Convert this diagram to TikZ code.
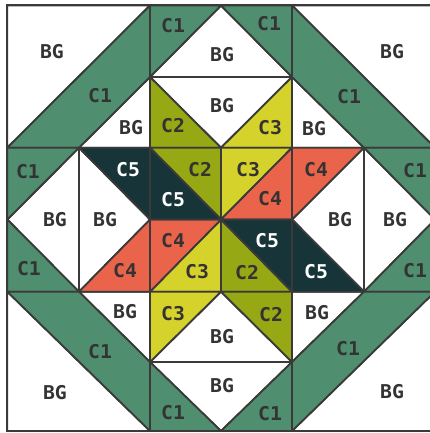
\documentclass[tikz,border=0pt]{standalone}
\usepackage{fontspec}
\newfontfamily\lblfont[FakeStretch=1.04]{DejaVu Sans Mono}
\definecolor{cA}{HTML}{4F8E6F}
\definecolor{cB}{HTML}{96A814}
\definecolor{cC}{HTML}{D6D22C}
\definecolor{cD}{HTML}{E9644A}
\definecolor{cE}{HTML}{173438}
\definecolor{lineC}{HTML}{3A3A3A}
\definecolor{txt}{HTML}{333333}
\tikzset{
  patch/.style={draw=lineC, line width=1.8pt, line join=round},
  bgp/.style={patch, fill=white},
  cone/.style={patch, fill=cA},
  ctwo/.style={patch, fill=cB},
  cthree/.style={patch, fill=cC},
  cfour/.style={patch, fill=cD},
  cfive/.style={patch, fill=cE},
  lbl/.style={font=\lblfont\bfseries\fontsize{19}{21}\selectfont, text=txt, inner sep=0pt},
  lblw/.style={lbl, text=white}
}
\begin{document}
\begin{tikzpicture}[x=1pt,y=-1pt]
\useasboundingbox (0,0) rectangle (430,433);
\fill[white] (0,0) rectangle (430,433);
\foreach \i/\x in {0/7.3,1/79,2/150,3/221,4/292,5/364,6/435}{
  \foreach \j/\y in {0/5.5,1/77,2/147.7,3/219.5,4/291.7,5/362,6/431}{
    \coordinate (p\i\j) at (\x,\y);
  }
}
% background patches
\path[bgp] (p00) -- (p20) -- (p02) -- cycle;
\path[bgp] (p12) -- (p21) -- (p22) -- cycle;
\path[bgp] (p21) -- (p30) -- (p41) -- cycle;
\path[bgp] (p21) -- (p41) -- (p32) -- cycle;
\path[bgp] (p40) -- (p60) -- (p62) -- cycle;
\path[bgp] (p41) -- (p42) -- (p52) -- cycle;
\path[bgp] (p12) -- (p03) -- (p14) -- cycle;
\path[bgp] (p12) -- (p23) -- (p14) -- cycle;
\path[bgp] (p52) -- (p43) -- (p54) -- cycle;
\path[bgp] (p52) -- (p63) -- (p54) -- cycle;
\path[bgp] (p04) -- (p06) -- (p26) -- cycle;
\path[bgp] (p14) -- (p24) -- (p25) -- cycle;
\path[bgp] (p34) -- (p25) -- (p45) -- cycle;
\path[bgp] (p25) -- (p45) -- (p36) -- cycle;
\path[bgp] (p66) -- (p46) -- (p64) -- cycle;
\path[bgp] (p54) -- (p45) -- (p44) -- cycle;
% C1
\path[cone] (p02) -- (p20) -- (p21) -- (p12) -- cycle;
\path[cone] (p20) -- (p30) -- (p21) -- cycle;
\path[cone] (p30) -- (p40) -- (p41) -- cycle;
\path[cone] (p40) -- (p62) -- (p52) -- (p41) -- cycle;
\path[cone] (p02) -- (p12) -- (p03) -- cycle;
\path[cone] (p03) -- (p04) -- (p14) -- cycle;
\path[cone] (p62) -- (p63) -- (p52) -- cycle;
\path[cone] (p64) -- (p54) -- (p63) -- cycle;
\path[cone] (p04) -- (p14) -- (p25) -- (p26) -- cycle;
\path[cone] (p25) -- (p26) -- (p36) -- cycle;
\path[cone] (p45) -- (p46) -- (p36) -- cycle;
\path[cone] (p64) -- (p46) -- (p45) -- (p54) -- cycle;
% C2
\path[ctwo] (p21) -- (p32) -- (p22) -- cycle;
\path[ctwo] (p22) -- (p32) -- (p33) -- cycle;
\path[ctwo] (p44) -- (p34) -- (p33) -- cycle;
\path[ctwo] (p45) -- (p34) -- (p44) -- cycle;
% C3
\path[cthree] (p41) -- (p42) -- (p32) -- cycle;
\path[cthree] (p32) -- (p42) -- (p33) -- cycle;
\path[cthree] (p34) -- (p24) -- (p33) -- cycle;
\path[cthree] (p25) -- (p24) -- (p34) -- cycle;
% C4
\path[cfour] (p42) -- (p43) -- (p33) -- cycle;
\path[cfour] (p42) -- (p52) -- (p43) -- cycle;
\path[cfour] (p24) -- (p23) -- (p33) -- cycle;
\path[cfour] (p23) -- (p14) -- (p24) -- cycle;
% C5
\path[cfive] (p12) -- (p22) -- (p23) -- cycle;
\path[cfive] (p22) -- (p33) -- (p23) -- cycle;
\path[cfive] (p44) -- (p33) -- (p43) -- cycle;
\path[cfive] (p43) -- (p44) -- (p54) -- cycle;
% outer border
\draw[lineC, line width=2pt] (p00) rectangle (p66);
% labels
\node[lbl] (t1) at (52,52) {BG};
\node[lbl] (t2) at (173,26) {C1};
\node[lbl] (t3) at (269,24) {C1};
\node[lbl] (t4) at (222,55) {BG};
\node[lbl] (t5) at (392,52) {BG};
\node[lbl] (t6) at (100,96) {C1};
\node[lbl] (t7) at (222,106) {BG};
\node[lbl] (t8) at (349,97) {C1};
\node[lbl] (t9) at (131,128) {BG};
\node[lbl] (t10) at (173,126) {C2};
\node[lbl] (t11) at (270,128) {C3};
\node[lbl] (t12) at (314,129) {BG};
\node[lbl] (t13) at (28,172) {C1};
\node[lblw] (t14) at (128,170) {C5};
\node[lbl] (t15) at (200,170) {C2};
\node[lbl] (t16) at (248,170) {C3};
\node[lbl] (t17) at (316,170) {C4};
\node[lbl] (t18) at (415,171) {C1};
\node[lblw] (t19) at (173,200) {C5};
\node[lbl] (t20) at (270,199) {C4};
\node[lbl] (t21) at (55,220) {BG};
\node[lbl] (t22) at (105,220) {BG};
\node[lbl] (t23) at (340,220) {BG};
\node[lbl] (t24) at (395,220) {BG};
\node[lbl] (t25) at (173,241) {C4};
\node[lblw] (t26) at (267,241) {C5};
\node[lbl] (t27) at (29,269) {C1};
\node[lbl] (t28) at (125,271) {C4};
\node[lbl] (t29) at (197,272) {C3};
\node[lbl] (t30) at (247,273) {C2};
\node[lblw] (t31) at (316,272) {C5};
\node[lbl] (t32) at (415,271) {C1};
\node[lbl] (t33) at (125,312) {BG};
\node[lbl] (t34) at (173,314) {C3};
\node[lbl] (t35) at (271,315) {C2};
\node[lbl] (t36) at (317,313) {BG};
\node[lbl] (t37) at (100,352) {C1};
\node[lbl] (t38) at (222,337) {BG};
\node[lbl] (t39) at (348,349) {C1};
\node[lbl] (t40) at (55,393) {BG};
\node[lbl] (t41) at (222,386) {BG};
\node[lbl] (t42) at (392,392) {BG};
\node[lbl] (t43) at (173,413) {C1};
\node[lbl] (t44) at (270,414) {C1};
\end{tikzpicture}
\end{document}
